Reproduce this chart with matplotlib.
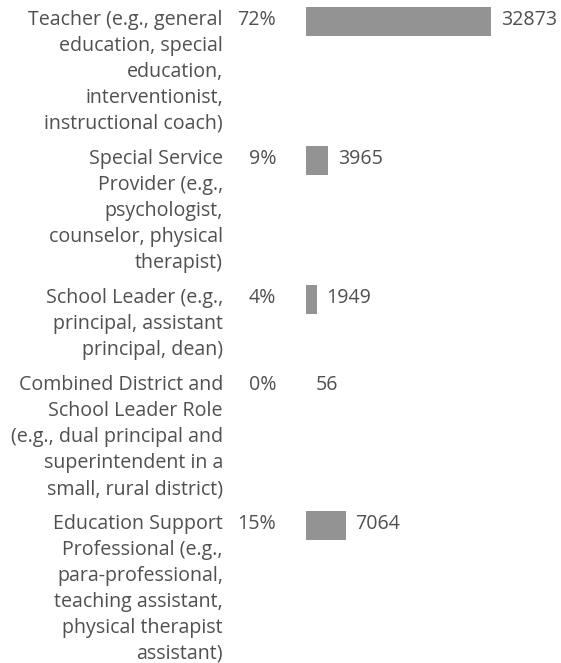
import matplotlib.pyplot as plt
import matplotlib.transforms as mtransforms

plt.rcParams['font.family'] = ['Open Sans', 'DejaVu Sans']

# data
labels = [
    ["Teacher (e.g., general", "education, special", "education,", "interventionist,", "instructional coach)"],
    ["Special Service", "Provider (e.g.,", "psychologist,", "counselor, physical", "therapist)"],
    ["School Leader (e.g.,", "principal, assistant", "principal, dean)"],
    ["Combined District and", "School Leader Role", "(e.g., dual principal and", "superintendent in a", "small, rural district)"],
    ["Education Support", "Professional (e.g.,", "para-professional,", "teaching assistant,", "physical therapist", "assistant)"],
]
percents = ["72%", "9%", "4%", "0%", "15%"]
counts = [32873, 3965, 1949, 56, 7064]

W, H = 561, 663
line_h = 26
gap = 9
text_col = '#505050'
bar_col = '#939393'

fig = plt.figure(figsize=(W / 100, H / 100), dpi=100)
ax = fig.add_axes([306 / W, 0, 1 - 306 / W, 1])
ax.set_xlim(0, max(counts) * (W - 306) / 185)
ax.set_ylim(H, 0)
ax.axis('off')

# first-line centre of each row, in pixels from the top
tops = []
y = 20
for lab in labels:
    tops.append(y)
    y += len(lab) * line_h + gap

ax.barh([t + 1 for t in tops], counts, height=29, color=bar_col)

trans = mtransforms.blended_transform_factory(fig.transFigure, ax.transData)
fs = 14.1
for lab, top, pct, c in zip(labels, tops, percents, counts):
    for i, line in enumerate(lab):
        ax.text(223 / W, top + i * line_h, line, transform=trans, ha='right', va='center',
                fontsize=fs, color=text_col)
    ax.text(276 / W, top, pct, transform=trans, ha='right', va='center', fontsize=fs,
            color=text_col)
    ax.annotate(str(c), (c, top), xytext=(7, 0), textcoords='offset points',
                ha='left', va='center', fontsize=fs, color=text_col)

fig.savefig('out.png', dpi=100)
